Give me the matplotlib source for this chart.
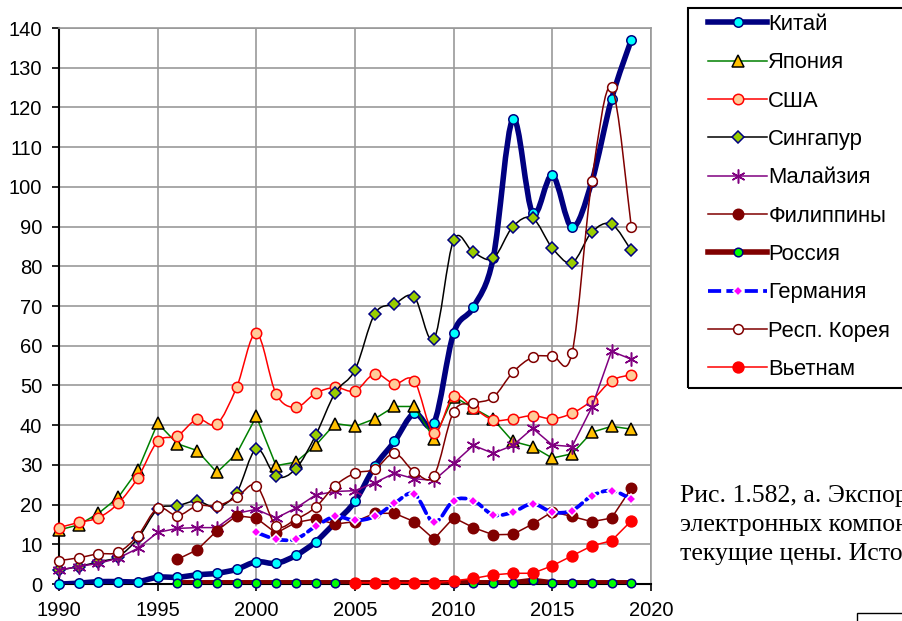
import numpy as np
import matplotlib
matplotlib.use("Agg")
import matplotlib.pyplot as plt
from matplotlib.path import Path
from matplotlib.patches import PathPatch, Rectangle
from matplotlib.lines import Line2D

plt.rcParams['font.family'] = ['Liberation Sans', 'DejaVu Sans']

nan = np.nan
years = list(range(1990, 2020))

# values
china = [0.0, 0.2, 0.6, 0.6, 0.6, 1.7, 1.7, 2.3, 2.7, 3.7, 5.6, 5.2, 7.2, 10.6, 15.5,
         20.8, 29.6, 35.9, 43.0, 40.5, 63.2, 69.7, 82.0, 117.0, 93.4, 102.9, 89.8, 101.3, 122.1, 137.0]
japan = [13.6, 14.9, 17.8, 21.8, 28.7, 40.5, 35.3, 33.6, 28.1, 32.8, 42.2, 29.8, 30.7, 34.9, 40.4,
         39.7, 41.6, 44.7, 44.7, 36.6, 47.2, 44.3, 41.5, 35.9, 34.6, 31.7, 32.8, 38.2, 39.7, 39.0]
usa = [14.2, 15.5, 16.7, 20.3, 26.8, 35.9, 37.3, 41.5, 40.3, 49.5, 63.2, 47.9, 44.5, 48.0, 49.5,
       48.6, 52.9, 50.4, 51.2, 38.0, 47.4, 44.3, 41.3, 41.6, 42.4, 41.6, 43.0, 46.2, 51.2, 52.7]
singapore = [3.5, 4.4, 5.6, 6.9, 11.5, 18.8, 19.7, 20.9, 19.3, 23.0, 34.0, 27.1, 29.0, 37.4, 48.2,
             53.9, 68.0, 70.5, 72.3, 61.7, 86.6, 83.5, 82.0, 90.0, 92.1, 84.6, 80.9, 88.6, 90.6, 84.0]
malaysia = [3.5, 4.4, 5.2, 6.5, 9.0, 13.0, 14.0, 14.2, 14.2, 17.8, 18.8, 16.6, 19.1, 22.4, 23.3,
            23.5, 25.5, 27.9, 26.5, 26.1, 30.4, 34.9, 32.9, 34.9, 39.2, 35.0, 34.6, 44.5, 58.6, 56.6]
philippines = [nan, nan, nan, nan, nan, nan, 6.2, 8.6, 13.4, 17.2, 16.6, 12.8, 15.5, 16.4, 15.1,
               15.7, 17.8, 17.8, 15.7, 11.3, 16.7, 14.2, 12.4, 12.5, 15.1, 18.2, 17.0, 15.7, 16.6, 24.1]
russia = [nan, nan, nan, nan, nan, nan, 0.3, 0.3, 0.3, 0.3, 0.3, 0.3, 0.3, 0.3, 0.3,
          0.3, 0.3, 0.3, 0.3, 0.3, 0.3, 0.3, 0.3, 0.3, 0.9, 0.3, 0.3, 0.3, 0.3, 0.3]
germany = [nan] * 10 + [13.0, 11.3, 11.3, 14.5, 17.0, 16.0, 17.0, 20.3, 22.7, 15.5,
                        21.0, 21.0, 17.4, 18.1, 20.2, 18.1, 18.5, 22.2, 23.5, 21.4]
korea = [5.9, 6.6, 7.6, 8.0, 12.2, 19.1, 17.2, 19.7, 19.7, 21.8, 24.8, 14.7, 16.3, 19.3, 24.8,
         27.9, 28.9, 32.9, 28.3, 27.3, 43.4, 45.5, 47.0, 53.3, 57.1, 57.5, 58.2, 101.5, 125.1, 90.0]
vietnam = [nan] * 15 + [0.3, 0.3, 0.3, 0.3, 0.3, 0.8, 1.4, 2.3, 2.7, 2.7,
                        4.6, 7.1, 9.6, 10.9, 15.9]

labels = ['Китай', 'Япония', 'США', 'Сингапур', 'Малайзия', 'Филиппины',
          'Россия', 'Германия', 'Респ. Корея', 'Вьетнам']
caption = ['Рис. 1.582, а. Экспорт', 'электронных компонентов', 'текущие цены. Источник']


def smooth_path(x, y):
    # excel-like smoothed line: bezier through the points
    n = len(x)
    verts = [(x[0], y[0])]
    codes = [Path.MOVETO]
    for i in range(n - 1):
        a = max(i - 1, 0)
        b = min(i + 2, n - 1)
        c1 = (x[i] + (x[i + 1] - x[a]) / 6, y[i] + (y[i + 1] - y[a]) / 6)
        c2 = (x[i + 1] - (x[b] - x[i]) / 6, y[i + 1] - (y[b] - y[i]) / 6)
        verts += [c1, c2, (x[i + 1], y[i + 1])]
        codes += [Path.CURVE4] * 3
    return Path(verts, codes)


# style per series: line color, lw, linestyle, marker, size, face, edge, smooth
styles = [
    ('#000080', 4.0, '-', 'o', 6.8, '#00FFFF', '#000080', True),
    ('#008000', 1.1, '-', '^', 8.3, '#FFC000', '#000000', False),
    ('#FF0000', 1.1, '-', 'o', 7.5, '#FFCC99', '#FF0000', True),
    ('#000000', 1.1, '-', 'D', 6.2, '#99CC00', '#000080', True),
    ('#800080', 1.1, '-', (6, 2, 0), 10, '#800080', '#800080', False),
    ('#800000', 1.1, '-', 'o', 7.5, '#800000', '#800000', False),
    ('#800000', 4.0, '-', 'o', 6.2, '#00FF00', '#000080', False),
    ('#0000FF', 2.7, (0, (3.5, 1.4)), 'D', 5.0, '#FF00FF', '#FFFFFF', True),
    ('#800000', 1.1, '-', 'o', 7.0, '#FFFFFF', '#800000', True),
    ('#FF0000', 1.1, '-', 'o', 7.8, '#FF0000', '#FF0000', False),
]
series = [china, japan, usa, singapore, malaysia, philippines, russia, germany, korea, vietnam]

fig = plt.figure(figsize=(9.03, 6.21), dpi=100)
ax = fig.add_axes([59 / 903, 1 - 584 / 621, (651 - 59) / 903, (584 - 28) / 621])

handles = []
for k, (vals, st) in enumerate(zip(series, styles)):
    color, lw, ls, mk, ms, fc, ec, smooth = st
    x = np.array([yr for yr, v in zip(years, vals) if not np.isnan(v)], dtype=float)
    y = np.array([v for v in vals if not np.isnan(v)], dtype=float)
    z = 3 + k
    if smooth:
        patch = PathPatch(smooth_path(x, y), fill=False, edgecolor=color, lw=lw,
                          linestyle=ls, zorder=z, capstyle='round', joinstyle='round')
        ax.add_patch(patch)
    else:
        ax.plot(x, y, color=color, lw=lw, ls=ls, zorder=z, solid_joinstyle='round')
    mew = 1.1
    ax.plot(x, y, ls='none', marker=mk, ms=ms, mfc=fc, mec=ec, mew=mew,
            zorder=z + 0.5, clip_on=False)
    handles.append(Line2D([], [], color=color, lw=lw, ls=ls, marker=mk, ms=ms,
                          mfc=fc, mec=ec, mew=mew))

ax.set_xlim(1990, 2020)
ax.set_ylim(0, 140)
ax.set_xticks(range(1990, 2021, 5))
ax.set_yticks(range(0, 141, 10))
ax.grid(True, color='#999999', lw=1.2)
ax.set_axisbelow(True)
for s in ['top', 'right']:
    ax.spines[s].set_color('#999999')
    ax.spines[s].set_linewidth(1.2)
for s in ['left', 'bottom']:
    ax.spines[s].set_color('black')
    ax.spines[s].set_linewidth(1.5)
    ax.spines[s].set_zorder(2.5)
ax.tick_params(axis='both', direction='out', length=5, width=1.2, labelsize=14.5,
               colors='black')
ax.tick_params(axis='y', pad=7)
ax.tick_params(axis='x', pad=7)

# legend box
fig.patches.append(Rectangle((688 / 903, 1 - 388 / 621), 0.5, (388 - 8) / 621,
                             transform=fig.transFigure, fill=False, ec='black', lw=1.5))
fig.legend(handles, labels, loc='upper left', bbox_to_anchor=(708 / 903, 1 - 14 / 621),
           frameon=False, borderaxespad=0, borderpad=0, numpoints=1, fontsize=15.8,
           handlelength=2.7, handletextpad=0.05, labelspacing=0.79)

# caption text cut by the right edge
for i, line in enumerate(caption):
    fig.text(680 / 903, 1 - (502 + 29 * i) / 621, line, family='Liberation Serif',
             fontsize=18.5, va='baseline', ha='left')

fig.patches.append(Rectangle((857 / 903, 1 - 640 / 621), 0.2, 27 / 621,
                             transform=fig.transFigure, fill=False, ec='black', lw=1.0))

fig.savefig('out.png', dpi=100)
